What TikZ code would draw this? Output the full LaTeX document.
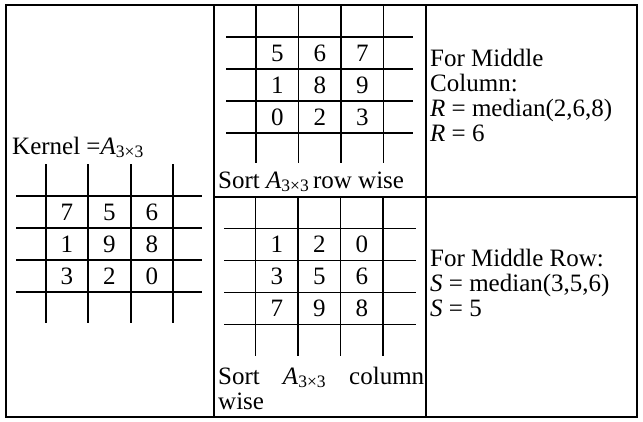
\documentclass[tikz,border=0pt]{standalone}
\usepackage{fontspec}
\setmainfont{Liberation Serif}

% 3x3 matrix drawn as a tic-tac-toe style grid:
% #1 x of first vertical, #2 y of first horizontal,
% #3/#4 top/bottom of verticals, #5/#6 left/right of horizontals,
% #7 node name prefix, #8 the nine entries row by row
\newcommand\matgrid[8]{%
  \foreach \k in {0,...,3}{
    \draw[gridline] (#1+\k*42.5,#3) -- (#1+\k*42.5,#4);
    \draw[gridline] (#5,#2+\k*32) -- (#6,#2+\k*32);
  }
  \foreach \v [count=\i from 0] in {#8}{
    \pgfmathtruncatemacro\rr{\i/3}
    \pgfmathtruncatemacro\cc{mod(\i,3)}
    \node[entry] (#7-\rr\cc) at (#1+\cc*42.5+21.25, #2+\rr*32+16) {\v};
  }%
}
\newcommand\Asub{\textit{A}\textsubscript{3×3}}

\begin{document}
\begin{tikzpicture}[x=1pt,y=-1pt,
  frame/.style={line width=1.8pt},
  gridline/.style={line width=1.8pt},
  label/.style={anchor=base west, inner sep=0pt, font=\fontsize{25}{25}\selectfont},
  entry/.style={inner sep=0pt, font=\fontsize{25}{25}\selectfont}]
\useasboundingbox (0,0) rectangle (643,421);

% table frame
\draw[frame] (6,5) rectangle (637,417);
\draw[frame] (214,5) -- (214,417);
\draw[frame] (426,5) -- (426,417);
\draw[frame] (214,197) -- (637,197);

% left cell: the kernel
\node[label] (kernel) at (12,154) {Kernel =\Asub};
\matgrid{45.7}{196}{164}{323}{16}{202}{k}{7,5,6,1,9,8,3,2,0}

% middle top: rows sorted
\matgrid{256}{37}{5}{163}{226}{413}{r}{5,6,7,1,8,9,0,2,3}
\node[label] (rowsort) at (218,188) {Sort \Asub\hspace{0.15em}row wise};

% middle bottom: columns sorted
\matgrid{255.5}{228.5}{197}{356}{224}{416}{c}{1,2,0,3,5,6,7,9,8}
\node[label] (colsort) at (218,384) {\makebox[206pt][s]{Sort \Asub{} column}};
\node[label] (colsort2) at (218,409) {wise};

% right top: median of middle column
\node[label] (mc1) at (430,66) {For Middle};
\node[label] (mc2) at (430,91) {Column:};
\node[label] (mc3) at (430,116) {\textit{R} = median(2,6,8)};
\node[label] (mc4) at (430,141) {\textit{R} = 6};

% right bottom: median of middle row
\node[label] (mr1) at (430,266) {For Middle Row:};
\node[label] (mr2) at (430,291) {\textit{S} = median(3,5,6)};
\node[label] (mr3) at (430,316) {\textit{S} = 5};
\end{tikzpicture}
\end{document}
